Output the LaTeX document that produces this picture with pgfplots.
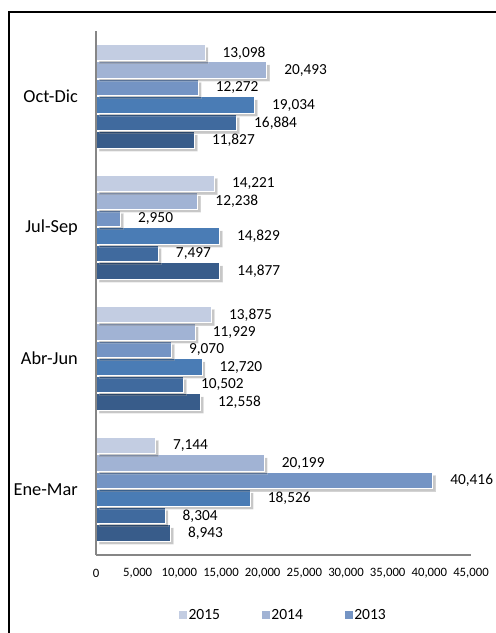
\documentclass[border=0pt]{standalone}
\usepackage{fontspec}
\setmainfont{Carlito}
\usepackage{pgfplots}
\pgfplotsset{compat=1.18}
\usetikzlibrary{shadows}
\definecolor{cA}{RGB}{195,205,226}
\definecolor{cB}{RGB}{161,179,212}
\definecolor{cC}{RGB}{116,148,196}
\definecolor{cD}{RGB}{74,124,181}
\definecolor{cE}{RGB}{64,106,158}
\definecolor{cF}{RGB}{56,92,138}
\definecolor{axisgray}{RGB}{134,134,134}
\pgfplotsset{
  mybar/.style 2 args={xbar, bar width=16.5bp, bar shift=#1, fill=#2, draw=white, line width=1bp,
    drop shadow={shadow xshift=3bp, shadow yshift=-3bp, fill=black, opacity=0.22},
    nodes near coords, point meta=x, forget plot,
    every node near coord/.append style={anchor=west, xshift=17bp, yshift=#1, inner sep=0pt,
      text=black, fill=none, draw=none, font=\fontsize{15.4}{17}\selectfont}},
}
\begin{document}
\begin{tikzpicture}
\path[use as bounding box] (0bp,0bp) rectangle (496bp,633bp);
\draw[line width=2bp] (9bp,0bp) -- (9bp,621bp) -- (496bp,621bp);
\begin{axis}[
  at={(96bp,78bp)}, anchor=south west,
  scale only axis, width=375bp, height=524bp,
  xmin=0, xmax=45000, ymin=-0.5, ymax=3.5,
  clip=false, axis on top,
  axis x line*=bottom, axis y line*=left,
  axis line style={axisgray, line width=1.5bp, -},
  major tick length=0pt,
  xtick={0,5000,...,45000}, scaled x ticks=false,
  ytick={0,1,2,3}, yticklabels={Ene-Mar,Abr-Jun,Jul-Sep,Oct-Dic},
  /pgf/number format/.cd, fixed, precision=0, 1000 sep={,}, assume math mode=true,
  /pgfplots/.cd,
  xticklabel style={font=\fontsize{12.8}{14}\selectfont, anchor=center, yshift=-18bp, text=black},
  yticklabel style={font=\fontsize{18.4}{20}\selectfont, anchor=east, inner sep=0pt, xshift=-18bp, text=black},
  legend style={at={(0.5,-0.1145)}, anchor=center, draw=none, legend columns=3,
    font=\fontsize{15.6}{17}\selectfont,
    /tikz/every even column/.append style={column sep=40bp}},
]
\addplot[mybar={-43.75bp}{cF}] coordinates {(8943,0) (12558,1) (14877,2) (11827,3)};
\addplot[mybar={-26.25bp}{cE}] coordinates {(8304,0) (10502,1) (7497,2) (16884,3)};
\addplot[mybar={-8.75bp}{cD}] coordinates {(18526,0) (12720,1) (14829,2) (19034,3)};
\addplot[mybar={8.75bp}{cC}] coordinates {(40416,0) (9070,1) (2950,2) (12272,3)};
\addplot[mybar={26.25bp}{cB}] coordinates {(20199,0) (11929,1) (12238,2) (20493,3)};
\addplot[mybar={43.75bp}{cA}] coordinates {(7144,0) (13875,1) (14221,2) (13098,3)};
\addlegendimage{legend image code/.code={\fill[cA] (0bp,-3.5bp) rectangle (7bp,3.5bp);}}
\addlegendentry{2015}
\addlegendimage{legend image code/.code={\fill[cB] (0bp,-3.5bp) rectangle (7bp,3.5bp);}}
\addlegendentry{2014}
\addlegendimage{legend image code/.code={\fill[cC] (0bp,-3.5bp) rectangle (7bp,3.5bp);}}
\addlegendentry{2013}
\end{axis}
\end{tikzpicture}
\end{document}
